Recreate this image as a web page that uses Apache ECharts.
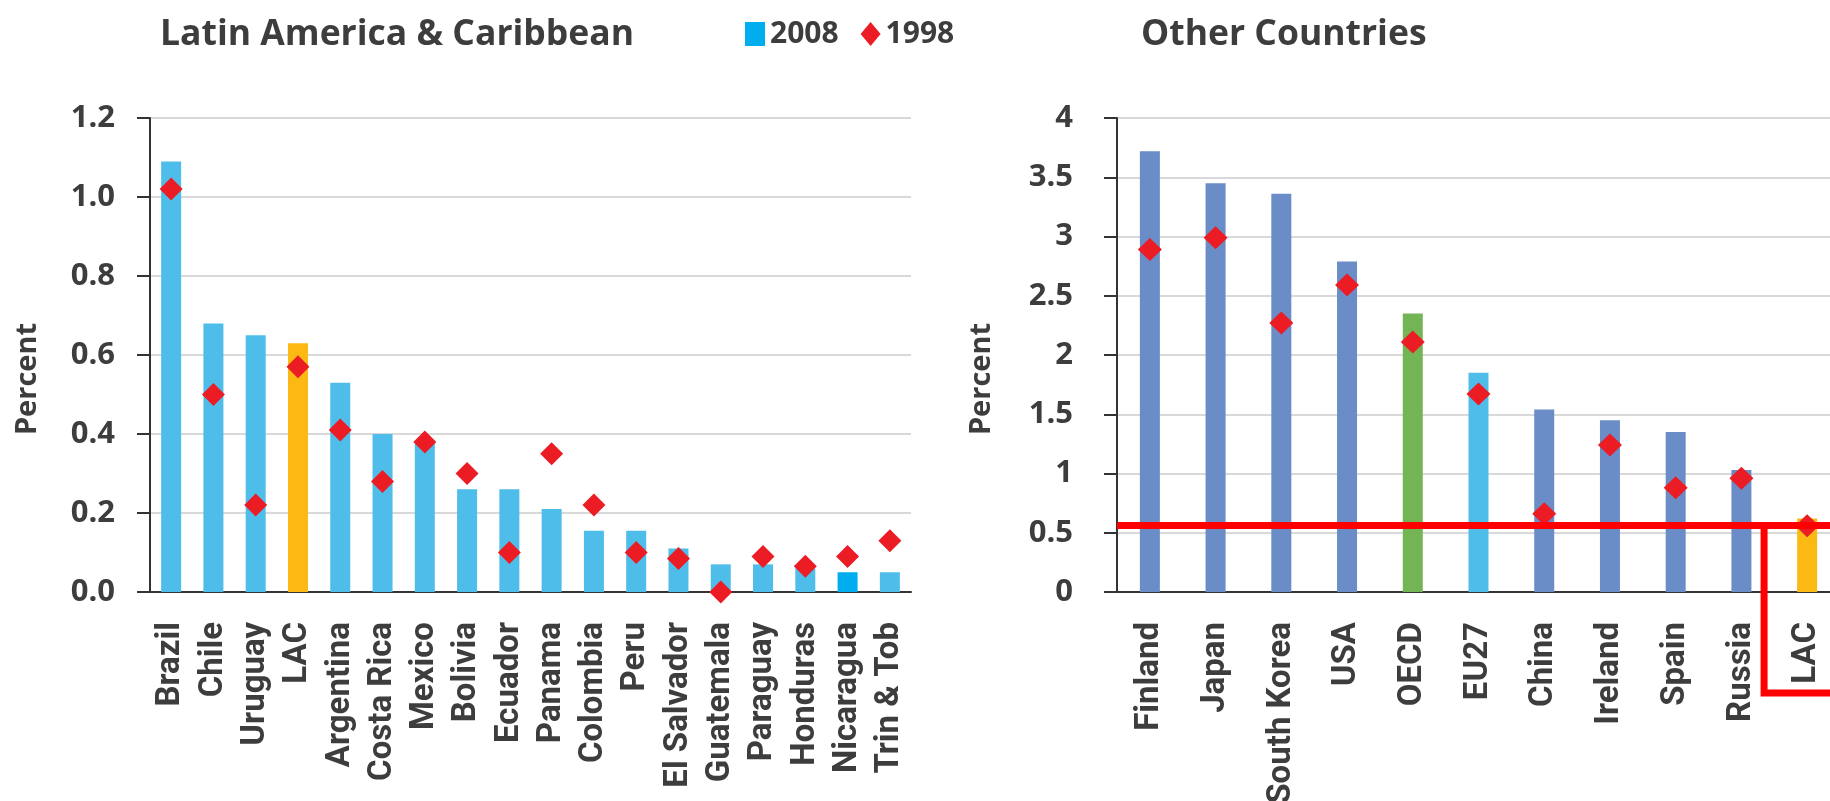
<!DOCTYPE html>
<html>
<head>
<meta charset="utf-8">
<script src="https://cdn.jsdelivr.net/npm/echarts@6/dist/echarts.min.js"></script>
<style>
html,body{margin:0;padding:0;background:#fff;}
#c{width:1830px;height:801px;}
</style>
</head>
<body>
<div id="c"></div>
<script>
// ---- data ----
const lacCategories = ['Brazil','Chile','Uruguay','LAC','Argentina','Costa Rica','Mexico','Bolivia','Ecuador','Panama','Colombia','Peru','El Salvador','Guatemala','Paraguay','Honduras','Nicaragua','Trin & Tob'];
const lac2008 = [1.09,0.68,0.65,0.63,0.53,0.40,0.38,0.26,0.26,0.21,0.155,0.155,0.11,0.07,0.07,0.06,0.05,0.05];
const lac1998 = [1.02,0.50,0.22,0.57,0.41,0.28,0.38,0.30,0.10,0.35,0.22,0.10,0.085,0.0,0.09,0.065,0.09,0.13];

const otherCategories = ['Finland','Japan','South Korea','USA','OECD','EU27','China','Ireland','Spain','Russia','LAC'];
const other2008 = [3.72,3.45,3.36,2.79,2.35,1.85,1.54,1.45,1.35,1.03,0.62];
const other1998 = [2.89,2.99,2.27,2.59,2.11,1.67,0.66,1.24,0.88,0.96,0.56];

const lacBenchmark = 0.555; // red reference line: LAC level
const legendNames = ['2008','1998'];

// ---- styles ----
const FONT = "'Open Sans', sans-serif";
const NARROW = "Roboto, 'DejaVu Sans Condensed', sans-serif";
const TXT = '#3d3d3d';
const lacColors = {'LAC':'#FDB913','Nicaragua':'#00AEEF'};
const lacDefault = '#4FBDEA';
const otherColors = {'OECD':'#73B454','EU27':'#4FBDEA','LAC':'#FDB913'};
const otherDefault = '#6A8CC7';
const RED = '#EC1C24';

const chart = echarts.init(document.getElementById('c'));

function xAxisCfg(idx, data){
  return {
    type:'category', gridIndex:idx, data:data,
    axisLine:{lineStyle:{color:'#333',width:2}},
    axisTick:{length:12,lineStyle:{color:'#333',width:2}},
    axisLabel:{rotate:90, interval:0, margin:30, fontFamily:NARROW, fontWeight:'bold', fontSize:33, color:TXT}
  };
}
function yAxisCfg(idx, max, interval, margin, gap, fmt){
  return {
    type:'value', gridIndex:idx, min:0, max:max, interval:interval,
    name:'Percent', nameLocation:'middle', nameGap:gap,
    nameTextStyle:{fontFamily:FONT, fontWeight:'bold', fontSize:29, color:TXT, padding:[0,48,0,0]},
    axisLine:{show:true,lineStyle:{color:'#333',width:2}},
    axisTick:{show:true,length:13,lineStyle:{color:'#333',width:2}},
    splitLine:{lineStyle:{color:'#d9d9d9',width:2}},
    axisLabel:{margin:margin, fontFamily:FONT, fontWeight:'bold', fontSize:31, color:TXT, formatter:fmt}
  };
}

const option = {
  animation:false,
  backgroundColor:'#fff',
  title:[
    {text:'Latin America & Caribbean', left:155, top:12, textStyle:{fontFamily:FONT,fontWeight:'bold',fontSize:35.5,color:TXT}},
    {text:'Other Countries', left:1136, top:12, textStyle:{fontFamily:FONT,fontWeight:'bold',fontSize:35.5,color:TXT}}
  ],
  legend:{
    data:[{name:legendNames[0],icon:'rect'},{name:legendNames[1],icon:'diamond'}],
    left:740, top:14, itemWidth:20, itemHeight:24, itemGap:22,
    textStyle:{fontFamily:FONT,fontWeight:'bold',fontSize:30,color:TXT}
  },
  grid:[
    {left:150, right:1830-911, top:118, bottom:209, outerBoundsMode:'none', containLabel:false},
    {left:1117, right:-10, top:118, bottom:209, outerBoundsMode:'none', containLabel:false}
  ],
  xAxis:[xAxisCfg(0,lacCategories), xAxisCfg(1,otherCategories)],
  yAxis:[
    yAxisCfg(0,1.2,0.2,35,108,function(v){return v.toFixed(1);}),
    yAxisCfg(1,4,0.5,44,121,function(v){return String(v);})
  ],
  series:[
    {name:legendNames[0], type:'bar', xAxisIndex:0, yAxisIndex:0, barWidth:20,
      itemStyle:{color:'#00AEEF'},
      data:lac2008.map(function(v,i){return {value:v,itemStyle:{color:lacColors[lacCategories[i]]||lacDefault}};})},
    {name:legendNames[1], type:'scatter', xAxisIndex:0, yAxisIndex:0, symbol:'diamond', symbolSize:[23,23],
      itemStyle:{color:RED, opacity:1}, z:3, data:lac1998},
    {name:legendNames[0], type:'bar', xAxisIndex:1, yAxisIndex:1, barWidth:20,
      data:other2008.map(function(v,i){return {value:v,itemStyle:{color:otherColors[otherCategories[i]]||otherDefault}};})},
    {name:legendNames[1], type:'scatter', xAxisIndex:1, yAxisIndex:1, symbol:'diamond', symbolSize:[24,23],
      itemStyle:{color:RED, opacity:1}, z:3, data:other1998,
      markLine:{silent:true, symbol:'none', label:{show:false}, z:10,
        lineStyle:{color:'#FF0000',width:7,type:'solid',opacity:1},
        data:[{yAxis:lacBenchmark}]}}
  ]
};
chart.setOption(option);

// red box around the LAC label, anchored to the axes
const zeroY = chart.convertToPixel({yAxisIndex:1}, 0);
const lineY = chart.convertToPixel({yAxisIndex:1}, lacBenchmark);
const lacX = chart.convertToPixel({xAxisIndex:1}, 'LAC');
const band = lacX - chart.convertToPixel({xAxisIndex:1}, 'Russia');
const vx = lacX - 0.655*band;
const by = zeroY + 101;
chart.setOption({graphic:[{
  type:'polyline', z:100, silent:true,
  shape:{points:[[vx,lineY-3.5],[vx,by],[1840,by]]},
  style:{stroke:'#FF0000', lineWidth:7, fill:'none', lineJoin:'miter'}
}]});
</script>
</body>
</html>
